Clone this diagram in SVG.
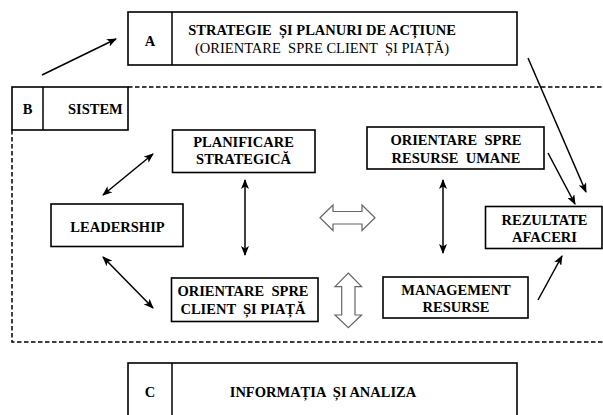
<svg xmlns="http://www.w3.org/2000/svg" width="603" height="415" viewBox="0 0 603 415">
<defs>
<style>
.box{fill:#fff;stroke:#000;stroke-width:1.6}
.t{font-family:"Liberation Serif","Times New Roman",serif;font-size:14.5px;font-weight:bold;fill:#000;text-anchor:middle;white-space:pre}
.r{font-weight:normal}
.ln{stroke:#000;stroke-width:1.5;fill:none}
.one{marker-end:url(#head)}
.two{marker-start:url(#head);marker-end:url(#head)}
.hollow{fill:#fff;stroke:#666;stroke-width:1.2}
.dash{fill:none;stroke:#000;stroke-width:1.5;stroke-dasharray:4.5 2.5}
</style>
<marker id="head" viewBox="0 0 10 8" refX="9" refY="4" markerWidth="10" markerHeight="8" markerUnits="userSpaceOnUse" orient="auto-start-reverse">
<path d="M0,0 L10,4 L0,8 L2.5,4 z" fill="#000"/>
</marker>
</defs>
<rect width="603" height="415" fill="#fff"/>

<!-- system boundary -->
<path class="dash" d="M128,87 H604 M12,130 V342 H604"/>

<g id="nodeA">
<rect class="box" x="128" y="12" width="389" height="53"/>
<line class="ln" x1="172" y1="12" x2="172" y2="65"/>
<text class="t" x="150" y="46">A</text>
<text class="t" x="322" y="35">STRATEGIE  ȘI PLANURI DE ACȚIUNE</text>
<text class="t r" x="322" y="53">(ORIENTARE  SPRE CLIENT  ȘI PIAȚĂ)</text>
</g>

<g id="nodeB">
<rect class="box" x="12" y="87" width="116" height="43"/>
<line class="ln" x1="43" y1="87" x2="43" y2="130"/>
<text class="t" x="27.5" y="114">B</text>
<text class="t" x="68" y="114" style="text-anchor:start">SISTEM</text>
</g>

<g id="nodeC">
<rect class="box" x="128" y="363" width="389" height="60"/>
<line class="ln" x1="172" y1="363" x2="172" y2="415"/>
<text class="t" x="150" y="397">C</text>
<text class="t" x="323" y="397">INFORMAȚIA  ȘI ANALIZA</text>
</g>

<g id="planificare">
<rect class="box" x="172.5" y="130" width="142.5" height="42.5"/>
<text class="t" x="243.5" y="146.5">PLANIFICARE</text>
<text class="t" x="243.5" y="163.5">STRATEGICĂ</text>
</g>

<g id="leadership">
<rect class="box" x="51" y="204" width="132" height="42.5"/>
<text class="t" x="117.5" y="231.5">LEADERSHIP</text>
</g>

<g id="client">
<rect class="box" x="171.5" y="278" width="146.5" height="43.5"/>
<text class="t" x="243" y="296">ORIENTARE  SPRE</text>
<text class="t" x="243" y="313.5">CLIENT  ȘI PIAȚĂ</text>
</g>

<g id="resurseUmane">
<rect class="box" x="367" y="127" width="177" height="42"/>
<text class="t" x="456" y="145">ORIENTARE  SPRE</text>
<text class="t" x="456" y="162.5">RESURSE  UMANE</text>
</g>

<g id="management">
<rect class="box" x="383" y="277" width="145" height="41"/>
<text class="t" x="456" y="295">MANAGEMENT</text>
<text class="t" x="456" y="311.5">RESURSE</text>
</g>

<g id="rezultate">
<rect class="box" x="485.5" y="206.5" width="116.5" height="42"/>
<text class="t" x="544.5" y="225">REZULTATE</text>
<text class="t" x="544.5" y="241.5">AFACERI</text>
</g>

<g id="connectors">
<path class="ln one" d="M42,75 L116,39"/>
<path class="ln one" d="M528,58 L586,192"/>
<path class="ln one" d="M548,153 L575,204"/>
<path class="ln one" d="M538,300 L562,256"/>
<path class="ln two" d="M103,195 L153,154"/>
<path class="ln two" d="M103,257 L153,308"/>
<path class="ln two" d="M245,180 L245,255"/>
<path class="ln two" d="M443,180 L443,253"/>
<polygon class="hollow" points="320,217.7 333,205 333,211.5 362,211.5 362,205 375,217.7 362,230.5 362,224 333,224 333,230.5"/>
<polygon class="hollow" points="348.3,273 361.6,286.7 355,286.7 355,315 361.6,315 348.3,327.7 335,315 341.7,315 341.7,286.7 335,286.7"/>
</g>
</svg>
